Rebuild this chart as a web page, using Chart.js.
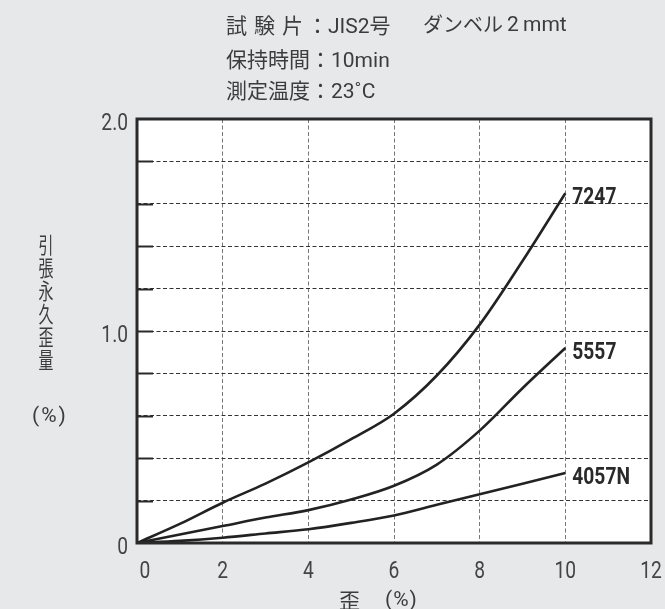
<!DOCTYPE html>
<html lang="ja">
<head>
<meta charset="utf-8">
<script src="https://cdn.jsdelivr.net/npm/chart.js@4/dist/chart.umd.min.js"></script>
<style>
  html, body { margin: 0; padding: 0; background: #e7e8ea; }
  #wrap { position: relative; width: 665px; height: 609px; overflow: hidden; }
  #chart { position: absolute; left: 0; top: 0; }
  .txt { position: absolute; color: #3c3c3c; white-space: pre; line-height: 24px;
         font-family: Roboto, 'Noto Sans CJK JP', sans-serif; font-size: 21px; }
  .cjk { font-family: 'Noto Sans CJK JP', sans-serif; font-size: 21px; }
  .ylab { left: 32px; width: 28px; font-size: 22px; line-height: 23px; text-align: center;
          font-family: 'Noto Sans CJK JP', sans-serif; transform: scaleX(0.68); }
</style>
</head>
<body>
<div id="wrap">
  <canvas id="chart" width="665" height="609"></canvas>
  <!-- test conditions -->
  <div class="txt cjk" style="left:226px; top:12px">試</div>
  <div class="txt cjk" style="left:254px; top:12px">験</div>
  <div class="txt cjk" style="left:282px; top:12px">片</div>
  <div class="txt" style="left:307px; top:12px"><span class="cjk">：</span>JIS2<span class="cjk">号</span></div>
  <div class="txt" style="left:423px; top:12px"><span class="cjk" style="font-size:20px">ダンベル</span></div>
  <div class="txt" style="left:507px; top:12px">2</div>
  <div class="txt" style="left:523px; top:12px">mmt</div>
  <div class="txt" style="left:226px; top:46px"><span class="cjk">保持時間：</span>10min</div>
  <div class="txt" style="left:226px; top:77px"><span class="cjk">測定温度：</span>23˚C</div>
  <!-- axis titles -->
  <div class="txt ylab" style="top:232px">引<br>張<br>永<br>久<br>歪<br>量</div>
  <div class="txt" style="left:32px; top:403px; letter-spacing:2px;">(%)</div>
  <div class="txt cjk" style="left:339px; top:587px;">歪</div>
  <div class="txt" style="left:385px; top:587px; letter-spacing:1px;">(%)</div>
</div>
<script>
// Strain (%) along the x axis
const strain = [0, 1, 2, 3, 4, 5, 6, 7, 8, 9, 10];
// Tensile permanent set (%) for each grade
const grade7247  = [0, 0.09, 0.19, 0.28, 0.38, 0.49, 0.61, 0.79, 1.03, 1.33, 1.65];
const grade5557  = [0, 0.04, 0.08, 0.12, 0.155, 0.205, 0.27, 0.37, 0.53, 0.73, 0.92];
const grade4057N = [0, 0.01, 0.025, 0.045, 0.065, 0.095, 0.13, 0.18, 0.23, 0.28, 0.33];
const seriesNames = ['7247', '5557', '4057N'];
const xTicks = [0, 2, 4, 6, 8, 10, 12];
const yGrid = [0, 0.2, 0.4, 0.6, 0.8, 1.0, 1.2, 1.4, 1.6, 1.8, 2.0];
const yLabels = [
  { value: 0, text: '0' },
  { value: 1, text: '1.0' },
  { value: 2, text: '2.0' }
];

const numFont = "Roboto, 'Liberation Sans', sans-serif";

function toPoints(ys) { return strain.map((x, i) => ({ x: x, y: ys[i] })); }

// draw text narrowed horizontally (condensed look)
function narrowText(ctx, text, x, y, align, sx) {
  ctx.save();
  ctx.translate(x, y);
  ctx.scale(sx, 1);
  ctx.textAlign = align;
  ctx.fillText(text, 0, 0);
  ctx.restore();
}

// White plot area, frame, inner left ticks, tick labels and grade names
const framePlugin = {
  id: 'frame',
  beforeDraw(chart) {
    const a = chart.chartArea, ctx = chart.ctx;
    ctx.save();
    ctx.fillStyle = '#ffffff';
    ctx.fillRect(a.left, a.top, a.right - a.left, a.bottom - a.top);
    ctx.restore();
  },
  afterDatasetsDraw(chart) {
    const a = chart.chartArea, ctx = chart.ctx;
    const xs = chart.scales.x, ys = chart.scales.y;
    ctx.save();
    ctx.strokeStyle = '#2a2a2a';
    ctx.lineWidth = 2;
    yGrid.slice(1, -1).forEach(v => {
      const py = Math.round(ys.getPixelForValue(v)) + 0.5;
      ctx.beginPath(); ctx.moveTo(a.left, py); ctx.lineTo(a.left + 16, py); ctx.stroke();
    });
    ctx.lineWidth = 3;
    ctx.strokeRect(a.left, a.top, a.right - a.left, a.bottom - a.top);

    // tick labels
    ctx.fillStyle = '#444444';
    ctx.font = "24px " + numFont;
    ctx.textBaseline = 'middle';
    yLabels.forEach(t => {
      narrowText(ctx, t.text, a.left - 9, ys.getPixelForValue(t.value) + 5, 'right', 0.8);
    });
    xTicks.forEach(v => {
      const px = xs.getPixelForValue(v) + (v === 0 ? 8 : 0);
      narrowText(ctx, String(v), px, a.bottom + 29, 'center', 0.8);
    });

    // grade names beside the last point of each line
    ctx.fillStyle = '#2a2a2a';
    ctx.font = "bold 24px " + numFont;
    chart.data.datasets.forEach((ds, i) => {
      const last = ds.data[ds.data.length - 1];
      const px = xs.getPixelForValue(last.x) + 7;
      const py = ys.getPixelForValue(last.y) + 5;
      narrowText(ctx, seriesNames[i], px, py, 'left', 0.8);
    });
    ctx.restore();
  }
};

const lineStyle = {
  borderColor: '#222222', borderWidth: 2.6, pointRadius: 0,
  fill: false, cubicInterpolationMode: 'monotone'
};

function zeroPad(s) { s.paddingLeft = 0; s.paddingRight = 0; s.paddingTop = 0; s.paddingBottom = 0; }

new Chart(document.getElementById('chart'), {
  type: 'line',
  data: {
    datasets: [
      Object.assign({ label: seriesNames[0], data: toPoints(grade7247) }, lineStyle),
      Object.assign({ label: seriesNames[1], data: toPoints(grade5557) }, lineStyle),
      Object.assign({ label: seriesNames[2], data: toPoints(grade4057N) }, lineStyle)
    ]
  },
  options: {
    responsive: false,
    animation: false,
    layout: { padding: { left: 0, top: 119, right: 14, bottom: 0 } },
    plugins: { legend: { display: false }, tooltip: { enabled: false } },
    scales: {
      x: {
        type: 'linear', min: 0, max: 12,
        afterFit(s) { s.height = 66; zeroPad(s); },
        afterBuildTicks(s) { s.ticks = xTicks.map(v => ({ value: v })); },
        grid: { color: '#777777', lineWidth: 1, drawTicks: false },
        border: { display: false, dash: [4, 2.5] },
        ticks: { display: false }
      },
      y: {
        type: 'linear', min: 0, max: 2,
        afterFit(s) { s.width = 137; zeroPad(s); },
        afterBuildTicks(s) { s.ticks = yGrid.map(v => ({ value: v })); },
        grid: { color: '#333333', lineWidth: 1, drawTicks: false },
        border: { display: false, dash: [4, 2.5] },
        ticks: { display: false }
      }
    }
  },
  plugins: [framePlugin]
});
</script>
</body>
</html>
